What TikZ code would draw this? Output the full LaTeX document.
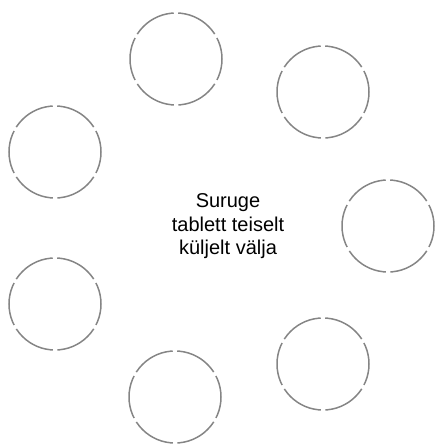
\documentclass[tikz,border=0pt]{standalone}
\usepackage{fontspec}
\setmainfont{Liberation Sans}
\begin{document}
\begin{tikzpicture}[x=1pt,y=1pt,
  ring/.style={circle,draw=black!48,line width=1.5pt,minimum size=92pt,inner sep=0pt,outer sep=0pt,
    dash pattern=on 43.67pt off 4.5pt,dash phase=21.83pt},
  label/.style={align=center,font=\fontsize{20}{23.5}\selectfont,inner sep=0pt}]
\useasboundingbox (0,0) rectangle (435,444);
\node[ring] (c1) at (176,444-59) {};
\node[ring] (c2) at (323,444-92) {};
\node[ring] (c3) at (388,444-226) {};
\node[ring] (c4) at (323,444-364) {};
\node[ring] (c5) at (175,444-397) {};
\node[ring] (c6) at (55,444-304) {};
\node[ring] (c7) at (55,444-152) {};
\node[label] (t) at (228,444-226.3) {Suruge\\tablett teiselt\\küljelt välja};
\end{tikzpicture}
\end{document}
